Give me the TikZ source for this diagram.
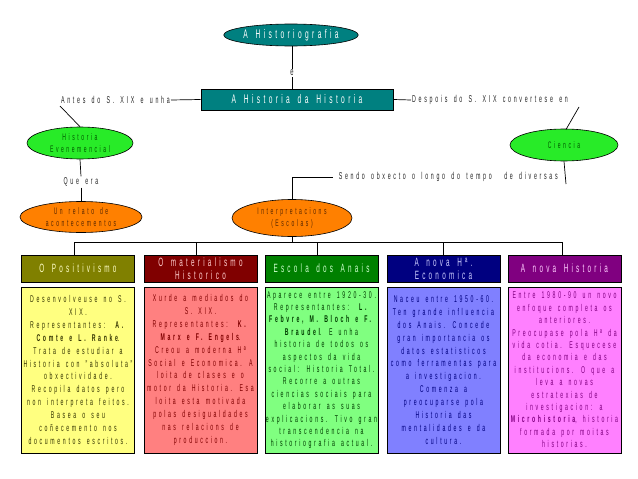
\documentclass[tikz,border=0pt]{standalone}
\usepackage{fontspec}
\setmainfont{Liberation Sans}[FakeStretch=0.53, LetterSpace=27, WordSpace=1.5]
\usetikzlibrary{shapes.geometric}
\definecolor{cteal}{RGB}{0,128,128}
\definecolor{cgreenell}{RGB}{40,235,40}
\definecolor{corange}{RGB}{255,128,0}
\definecolor{colive}{RGB}{128,128,0}
\definecolor{cmaroon}{RGB}{128,0,0}
\definecolor{cgreen}{RGB}{0,128,0}
\definecolor{cnavy}{RGB}{0,0,128}
\definecolor{cpurple}{RGB}{128,0,128}
\definecolor{byellow}{RGB}{255,255,128}
\definecolor{bred}{RGB}{255,128,128}
\definecolor{bgreen}{RGB}{128,255,128}
\definecolor{bblue}{RGB}{128,128,255}
\definecolor{bpink}{RGB}{255,128,255}
\definecolor{tdkgreen}{RGB}{0,90,0}
\definecolor{tbrown}{RGB}{90,40,0}
\begin{document}
\begin{tikzpicture}[x=1pt,y=-1pt,
  ell/.style={ellipse, draw=black, line width=0.6pt, inner sep=0pt, align=center},
  hdr/.style={rectangle, draw=black, line width=0.8pt, minimum width=113pt, minimum height=27pt, inner sep=0pt, align=center, font=\fontsize{12}{13}\selectfont},
  bodybox/.style={rectangle, draw=black, line width=0.8pt, minimum width=113pt, minimum height=166pt, inner sep=0pt, align=center, font=\fontsize{9.8}{12.9}\selectfont},
  lbl/.style={font=\fontsize{10}{11}\selectfont, text=black!85, inner sep=1pt},
  conn/.style={draw=black, line width=0.7pt}]
\useasboundingbox[fill=white] (0,0) rectangle (638,479);

% top
\node[ell, fill=cteal, text=white, minimum width=134pt, minimum height=22pt, font=\fontsize{12.5}{12}\selectfont] (hg) at (291,35) {A Historiografia};
\node[rectangle, draw=black, line width=0.8pt, fill=cteal, text=white, minimum width=192pt, minimum height=21pt, inner sep=0pt, font=\fontsize{12.5}{12}\selectfont] (hh) at (297,99.5) {A Historia da Historia};
\node[lbl, font=\fontsize{11}{12}\selectfont] (e) at (292,73) {e};
\draw[conn] (hg.south -| e) -- (e.north);
\draw[conn] (e.south) -- (e |- hh.north);

\node[lbl, anchor=east] (antes) at (171,100) {Antes do S. XIX e unha};
\node[lbl, anchor=west] (despois) at (411,100) {Despois do S. XIX convertese en};
\draw[conn] (antes.east) -- (hh.west);
\draw[conn] (hh.east) -- (despois.west);

% second level
\node[ell, fill=cgreenell, text=tdkgreen, minimum width=106pt, minimum height=32pt, font=\fontsize{9.5}{12}\selectfont] (hev) at (80,143) {Historia\\Evenemencial};
\node[ell, fill=cgreenell, text=tdkgreen, minimum width=108pt, minimum height=32pt, font=\fontsize{9.5}{12}\selectfont] (cie) at (564,145) {Ciencia};
\coordinate (a1) at (60,106);
\coordinate (d1) at (579,107);
\draw[conn] (a1) -- (hev.north);
\draw[conn] (d1) -- (566,129.5);

\node[lbl] (que) at (81,182) {Que era};
\node[ell, fill=corange, text=tbrown, minimum width=122pt, minimum height=31pt, font=\fontsize{9.5}{12}\selectfont] (rel) at (81,217) {Un relato de\\acontecementos};
\draw[conn] (hev.south) -- (que.north);
\draw[conn] (que.south) -- (rel.north);

\node[lbl, anchor=east] (sendo) at (559,177) {Sendo obxecto o longo do tempo\ \ de diversas};
\coordinate (cend) at (566,184);
\draw[conn] (cie.south) -- (cend);

\node[ell, fill=corange, text=tbrown, minimum width=120pt, minimum height=37pt, font=\fontsize{9.5}{12}\selectfont] (int) at (292,218) {Interpretacions\\(Escolas)};
\draw[conn] ([xshift=-5pt]sendo.west) -- (int.north |- sendo.west) -- (int.north);

% headers
\node[hdr, fill=colive, text={rgb,255:red,255;green,255;blue,200}] (h1) at (78,268.5) {O Positivismo};
\node[hdr, fill=cmaroon, text={rgb,255:red,255;green,205;blue,205}] (h2) at (200.5,268.5) {O materialismo\\Historico};
\node[hdr, fill=cgreen, text={rgb,255:red,205;green,255;blue,205}] (h3) at (321.5,268.5) {Escola dos Anais};
\node[hdr, fill=cnavy, text={rgb,255:red,205;green,205;blue,255}] (h4) at (443.5,268.5) {A nova Hª.\\Economica};
\node[hdr, fill=cpurple, text={rgb,255:red,255;green,205;blue,255}] (h5) at (564.5,268.5) {A nova Historia};

\coordinate (b1) at (74,242);
\coordinate (b2) at (196,242);
\coordinate (b3) at (317,242);
\coordinate (b4) at (443,242);
\coordinate (b5) at (562,242);
\draw[conn] (b1) -- (b5);
\draw[conn] (int.south) -- (int.south |- b1);
\draw[conn] (b1) -- (b1 |- h1.north);
\draw[conn] (b2) -- (b2 |- h2.north);
\draw[conn] (b3) -- (b3 |- h3.north);
\draw[conn] (b4) -- (b4 |- h4.north);
\draw[conn] (b5) -- (b5 |- h5.north);

% bodies
\node[bodybox, fill=byellow, text={rgb,255:red,50;green,50;blue,0}] (p1) at (78,370) {Desenvolveuse no S.\\XIX.\\Representantes: \textbf{A.}\\\textbf{Comte e L. Ranke}.\\Trata de estudiar a\\Historia con "absoluta"\\obxectividade.\\Recopila datos pero\\non interpreta feitos.\\Basea o seu\\coñecemento nos\\documentos escritos.};
\node[bodybox, fill=bred, text=cmaroon] (p2) at (200.5,370) {Xurde a mediados do\\S. XIX.\\Representantes: \textbf{K.}\\\textbf{Marx e F. Engels}.\\Creou a moderna Hª\\Social e Economica. A\\loita de clases e o\\motor da Historia. Esa\\loita esta motivada\\polas desigualdades\\nas relacions de\\produccion.};
\node[bodybox, fill=bgreen, text={rgb,255:red,0;green,60;blue,0}, font=\fontsize{9.8}{12.4}\selectfont] (p3) at (321.5,370) {Aparece entre 1920-30.\\Representantes: \textbf{L.}\\\textbf{Febvre, M. Bloch e F.}\\\textbf{Braudel}. E unha\\historia de todos os\\aspectos da vida\\social: Historia Total.\\Recorre a outras\\ciencias sociais para\\elaborar as suas\\explicacions. Tivo gran\\transcendencia na\\historiografia actual.};
\node[bodybox, fill=bblue, text=cnavy] (p4) at (443.5,370) {Naceu entre 1950-60.\\Ten grande influencia\\dos Anais. Concede\\gran importancia os\\datos estatisticos\\como ferramentas para\\a investigacion.\\Comenza a\\preocuparse pola\\Historia das\\mentalidades e da\\cultura.};
\node[bodybox, fill=bpink, text=cpurple, font=\fontsize{9.8}{12.4}\selectfont] (p5) at (564.5,370) {Entre 1980-90 un novo\\enfoque completa os\\anteriores.\\Preocupase pola Hª da\\vida cotia. Esquecese\\da economia e das\\institucions. O que a\\leva a novas\\estratexias de\\investigacion: a\\\textbf{Microhistoria}, historia\\formada por moitas\\historias.};
\end{tikzpicture}
\end{document}
